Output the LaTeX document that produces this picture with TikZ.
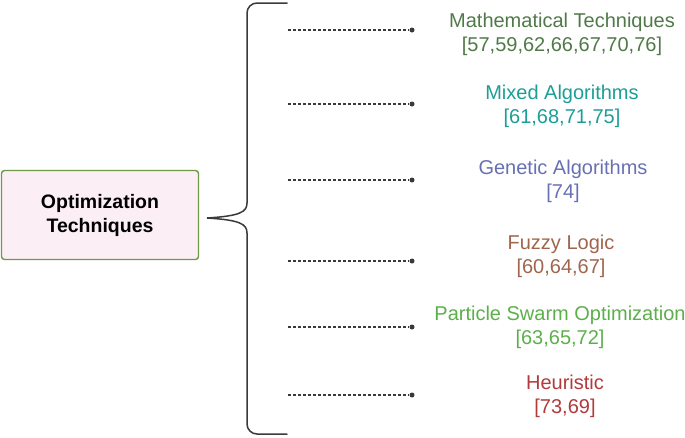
\documentclass[tikz,border=0pt]{standalone}
\usepackage{fontspec}
\setmainfont{Liberation Sans}
\definecolor{cMath}{HTML}{4F7A48}
\definecolor{cMix}{HTML}{1C9E96}
\definecolor{cGen}{HTML}{6870B4}
\definecolor{cFuz}{HTML}{A0654C}
\definecolor{cPso}{HTML}{5BB04A}
\definecolor{cHeu}{HTML}{B03A3C}
\definecolor{boxfill}{HTML}{FCEEF5}
\definecolor{boxline}{HTML}{6E9A45}
\definecolor{linegray}{HTML}{3A3A3A}
\begin{document}
\begin{tikzpicture}[x=1pt,y=-1pt,
  mainbox/.style={draw=boxline,line width=1.4pt,fill=boxfill,rounded corners=3pt,
    minimum width=197pt,minimum height=89pt,align=center,
    font=\fontsize{19.5}{24}\selectfont\bfseries},
  lab/.style={align=center,font=\fontsize{20}{24}\selectfont},
  dotline/.style={draw=linegray,line width=1.3pt,dash pattern=on 2.6pt off 2.4pt},
  enddot/.style={circle,fill=linegray,inner sep=0pt,minimum size=5pt},
  bracestyle/.style={draw=linegray,line width=1.5pt,line cap=round}
]
\useasboundingbox (0,0) rectangle (685,437);
\node[mainbox] (opt) at (100,215) {Optimization\\Techniques};
% brace
\coordinate (btop) at (287,3);
\coordinate (bbot) at (287,434);
\coordinate (btip) at (207,218);
\draw[bracestyle] (btop) -- (257,3) to[out=180,in=90] (247,13) -- (247,203)
  .. controls (247,212) and (240,216) .. (btip)
  .. controls (240,220) and (247,224) .. (247,233) -- (247,424)
  to[out=-90,in=180] (257,434) -- (bbot);
% dotted rows
\foreach \name/\yy in {r1/30,r2/104,r3/180,r4/261,r5/327,r6/395}{
  \coordinate (\name s) at (288,\yy);
  \node[enddot] (\name e) at (412,\yy) {};
  \draw[dotline] (\name s) -- (\name e);
}
% labels
\node[lab,text=cMath] (l1) at (562,34) {Mathematical Techniques\\{[}57,59,62,66,67,70,76{]}};
\node[lab,text=cMix] (l2) at (562,106) {Mixed Algorithms\\{[}61,68,71,75{]}};
\node[lab,text=cGen] (l3) at (563,181) {Genetic Algorithms\\{[}74{]}};
\node[lab,text=cFuz] (l4) at (561,256) {Fuzzy Logic\\{[}60,64,67{]}};
\node[lab,text=cPso] (l5) at (560,327) {Particle Swarm Optimization\\{[}63,65,72{]}};
\node[lab,text=cHeu] (l6) at (565,396) {Heuristic\\{[}73,69{]}};
\end{tikzpicture}
\end{document}
